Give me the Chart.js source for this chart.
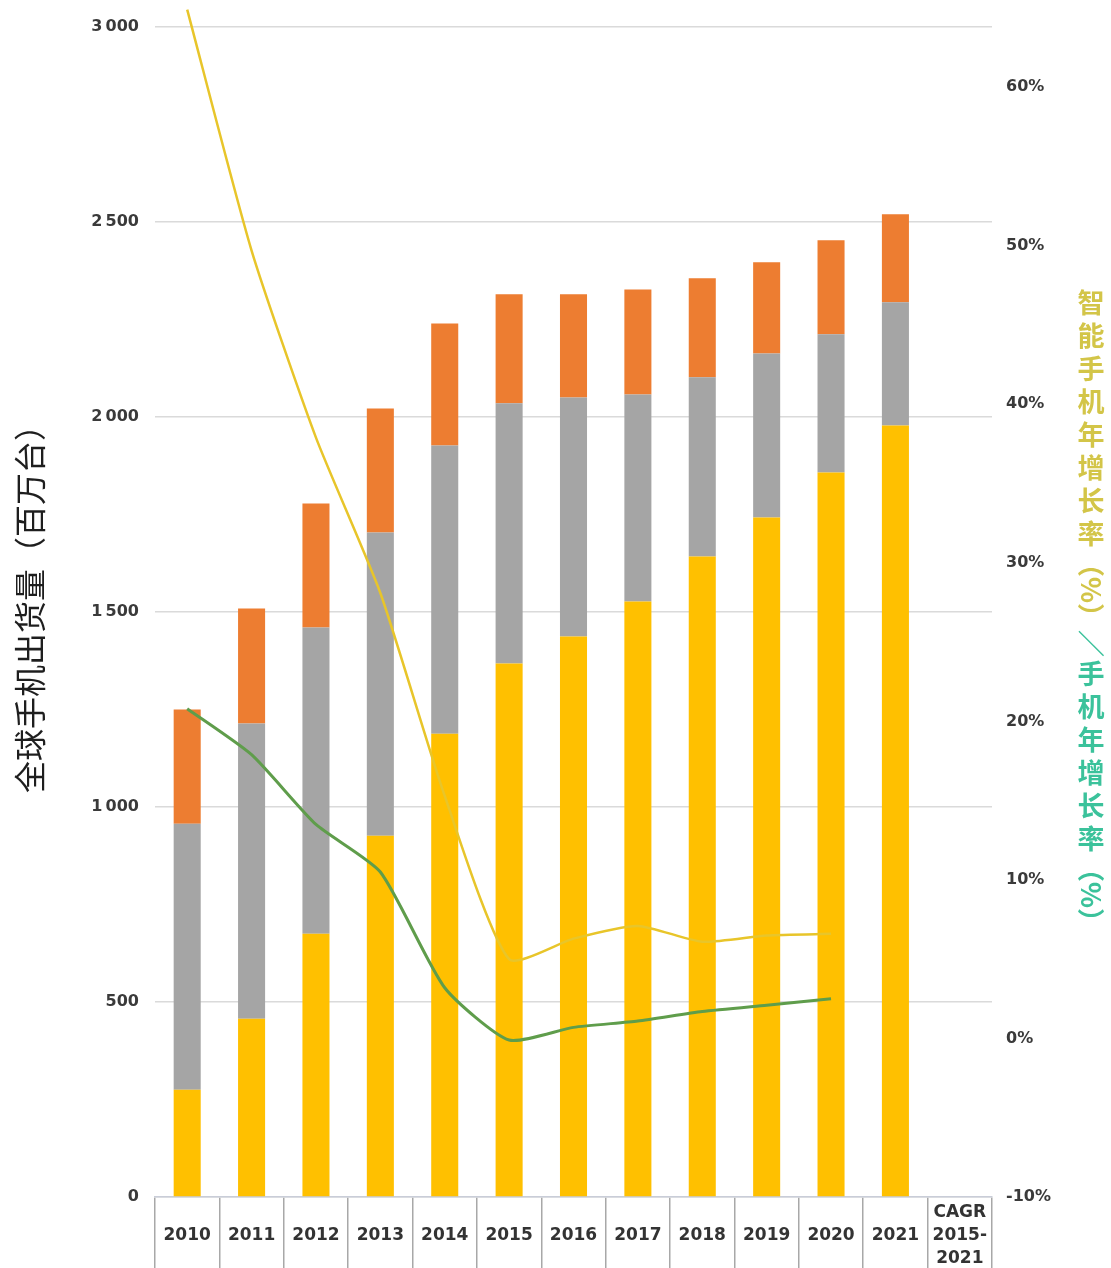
<!DOCTYPE html>
<html lang="zh-CN">
<head>
<meta charset="utf-8">
<title>全球手机出货量</title>
<script src="https://cdn.jsdelivr.net/npm/chart.js@4.4.1/dist/chart.umd.min.js"></script>
<style>
  html, body { margin: 0; padding: 0; background: #fff; }
  #wrap { width: 1111px; height: 1268px; }
</style>
</head>
<body>
<div id="wrap"><canvas id="myChart" width="1111" height="1268"></canvas></div>
<script>
// 年份，最后一栏是 2015-2021 年复合增长率
const years = ['2010', '2011', '2012', '2013', '2014', '2015', '2016', '2017', '2018', '2019', '2020', '2021', ['CAGR', '2015-', '2021']];

// 出货量（百万台），三段堆叠
const smartShip = [275, 457, 675, 926, 1188, 1368, 1437, 1527, 1642, 1742, 1858, 1978, null];
const featureShip = [682, 757, 785, 778, 739, 667, 613, 531, 460, 421, 354, 316, null];
const otherShip = [293, 295, 318, 318, 313, 280, 265, 269, 254, 234, 241, 226, null];

// 年增长率（%）
const smartGrowth = [64.9, 49.7, 37.9, 28.1, 15.3, 5.0, 6.3, 7.1, 6.1, 6.5, 6.6, null, null];
const totalGrowth = [20.8, 17.9, 13.5, 10.5, 3.2, -0.1, 0.7, 1.1, 1.7, 2.1, 2.5, null, null];

// 坐标轴刻度
const shipTicks = [0, 500, 1000, 1500, 2000, 2500, 3000];
const rateTicks = [-10, 0, 10, 20, 30, 40, 50, 60];

// 左侧标题
const leftTitle = '全球手机出货量（百万台）';

// 右侧竖排标题，分两种颜色
const rightTitle = [
    { text: '智能手机年增长率（%）', color: '#d3c548' },
    { text: '／手机年增长率（%）', color: '#3bc29b' }
];

function fmtThousand(v) {
    return String(v).replace(/\B(?=(\d{3})+(?!\d))/g, '\u2009');
}

const tickFont = { family: 'DejaVu Sans', weight: 'bold', size: 16 };

// 两侧标题：左边整体旋转，右边汉字直立、符号旋转 90 度
const axisTitles = {
    id: 'axisTitles',
    afterDraw(chart) {
        const ctx = chart.ctx;
        ctx.save();
        ctx.textAlign = 'center';
        ctx.textBaseline = 'middle';

        ctx.save();
        ctx.font = '32px "Noto Sans CJK SC"';
        ctx.fillStyle = '#1e1e1e';
        ctx.translate(30, 601);
        ctx.rotate(-Math.PI / 2);
        ctx.fillText(leftTitle, 0, 0);
        ctx.restore();

        const cx = 1091;
        let y = 286;
        ctx.font = 'bold 27px "Noto Sans CJK SC"';
        rightTitle.forEach(function(part) {
            ctx.fillStyle = part.color;
            for (const ch of part.text) {
                if (/[\u4e00-\u9fff]/.test(ch)) {
                    ctx.fillText(ch, cx, y + 16.5);
                    y += 33;
                } else {
                    const w = ctx.measureText(ch).width;
                    ctx.save();
                    ctx.translate(cx, y + w / 2);
                    ctx.rotate(Math.PI / 2);
                    ctx.fillText(ch, 0, 0);
                    ctx.restore();
                    y += w;
                }
            }
        });
        ctx.restore();
    }
};

var chartCanvas = document.getElementById('myChart');
var ctx = chartCanvas.getContext('2d');
var myChart = new Chart(ctx, {
    type: 'bar',
    data: {
        labels: years,
        datasets: [
            {
                type: 'line',
                label: '智能手机年增长率',
                data: smartGrowth,
                yAxisID: 'y1',
                borderColor: '#e8c52a',
                borderWidth: 2.5,
                pointRadius: 0,
                tension: 0.2,
                clip: false,
                order: 1
            },
            {
                type: 'line',
                label: '手机年增长率',
                data: totalGrowth,
                yAxisID: 'y1',
                borderColor: '#5f9d4b',
                borderWidth: 3,
                pointRadius: 0,
                tension: 0.2,
                clip: false,
                order: 1
            },
            {
                label: '智能手机',
                data: smartShip,
                backgroundColor: '#ffc000',
                barPercentage: 0.42,
                categoryPercentage: 1,
                order: 2
            },
            {
                label: '功能手机',
                data: featureShip,
                backgroundColor: '#a5a5a5',
                barPercentage: 0.42,
                categoryPercentage: 1,
                order: 2
            },
            {
                label: '其他手机',
                data: otherShip,
                backgroundColor: '#ed7d31',
                barPercentage: 0.42,
                categoryPercentage: 1,
                order: 2
            }
        ]
    },
    options: {
        responsive: false,
        animation: false,
        layout: { padding: { top: 27, bottom: 0, left: 0, right: 0 } },
        plugins: {
            legend: { display: false },
            tooltip: { enabled: false }
        },
        scales: {
            x: {
                stacked: true,
                offset: true,
                grid: {
                    offset: true,
                    drawOnChartArea: false,
                    color: '#a8a8a8',
                    lineWidth: 1.5,
                    tickLength: 72
                },
                border: { color: '#c9cdd8', width: 1.5 },
                ticks: {
                    padding: -56,
                    crossAlign: 'center',
                    maxRotation: 0,
                    autoSkip: false,
                    color: '#333',
                    font: { family: 'DejaVu Sans', weight: 'bold', size: 17, lineHeight: 1.35 }
                },
                afterFit: function(s) { s.height = 71; }
            },
            y: {
                stacked: true,
                position: 'left',
                min: shipTicks[0],
                max: shipTicks[shipTicks.length - 1],
                grid: { color: '#dadada', lineWidth: 1.5, drawTicks: false },
                border: { display: false },
                ticks: {
                    stepSize: shipTicks[1] - shipTicks[0],
                    padding: 16,
                    color: '#3a3a3a',
                    font: tickFont,
                    callback: function(v) { return fmtThousand(v); }
                },
                afterFit: function(s) { s.width = 155; }
            },
            y1: {
                position: 'right',
                min: rateTicks[0],
                max: 63.8,
                grid: { display: false, drawTicks: false },
                border: { display: false },
                ticks: {
                    stepSize: rateTicks[1] - rateTicks[0],
                    includeBounds: false,
                    padding: 14,
                    color: '#3a3a3a',
                    font: tickFont,
                    callback: function(v) { return v + '%'; }
                },
                afterFit: function(s) { s.width = 119; }
            }
        }
    },
    plugins: [axisTitles]
});
</script>
</body>
</html>
